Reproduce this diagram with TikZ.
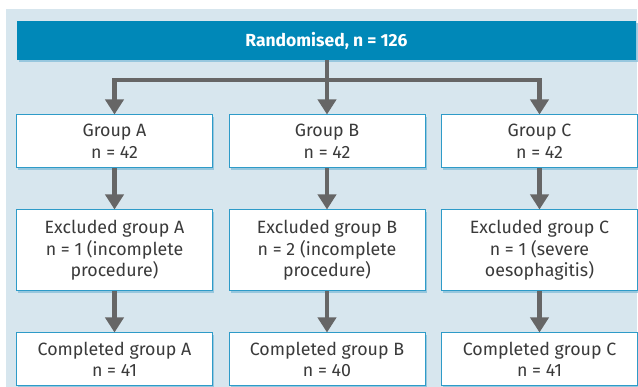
\documentclass[tikz,border=0pt]{standalone}
\usepackage{fontspec}
\setmainfont{Fira Sans}
\usepackage{tikz}
\usetikzlibrary{arrows.meta,positioning,calc,shadows}
\definecolor{panelblue}{HTML}{D7E6EE}
\definecolor{headerblue}{HTML}{0088B8}
\definecolor{edgeblue}{HTML}{2E9BC8}
\definecolor{shadowblue}{HTML}{7DBAD8}
\definecolor{arrowgray}{HTML}{666666}
\definecolor{textgray}{HTML}{3A3A3A}

\begin{document}
\begin{tikzpicture}[x=1pt, y=1pt, node distance=41pt and 15.5pt]
\tikzset{box/.style={draw=edgeblue, fill=white, line width=1pt, minimum width=196pt, minimum height=53pt, align=center, inner sep=2pt, text=textgray, font=\fontsize{17.8}{21.5}\selectfont, drop shadow={shadow xshift=1.5pt, shadow yshift=-2pt, fill=shadowblue, opacity=0.7}},
  flow/.style={line width=4.5pt, arrowgray, -{Triangle[width=18pt, length=15pt]}}}
\useasboundingbox (0,0) rectangle (638,-387);
\fill[panelblue] (6,-9) rectangle (637,-387);
\node[fill=headerblue, minimum width=619pt, minimum height=39pt, text=white, font=\fontsize{17.5}{20}\selectfont\bfseries, drop shadow={shadow xshift=1.5pt, shadow yshift=-2pt, fill=shadowblue, opacity=0.7}] (rand) at (326.5,-40.5) {Randomised, n = 126};
\node[box] (grpB) at (327,-141.5) {Group B\\n = 42};
\node[box, left=of grpB] (grpA) {Group A\\n = 42};
\node[box, right=of grpB] (grpC) {Group C\\n = 42};
\node[box, minimum height=81pt, below=of grpA] (exclA) {Excluded group A\\n = 1 (incomplete\\procedure)};
\node[box, minimum height=81pt, below=of grpB] (exclB) {Excluded group B\\n = 2 (incomplete\\procedure)};
\node[box, minimum height=81pt, below=of grpC] (exclC) {Excluded group C\\n = 1 (severe\\oesophagitis)};
\node[box, below=of exclA] (compA) {Completed group A\\n = 41};
\node[box, below=of exclB] (compB) {Completed group B\\n = 40};
\node[box, below=of exclC] (compC) {Completed group C\\n = 41};
\coordinate (split) at ($(rand.south -| grpB.north)+(0,-20pt)$);
\draw[flow] (rand.south -| grpB.north) -- (grpB.north);
\draw[flow] (split) -| (grpA.north);
\draw[flow] (split) -| (grpC.north);
\draw[flow] (grpA) -- (exclA);
\draw[flow] (grpB) -- (exclB);
\draw[flow] (grpC) -- (exclC);
\draw[flow] (exclA) -- (compA);
\draw[flow] (exclB) -- (compB);
\draw[flow] (exclC) -- (compC);
\end{tikzpicture}
\end{document}
